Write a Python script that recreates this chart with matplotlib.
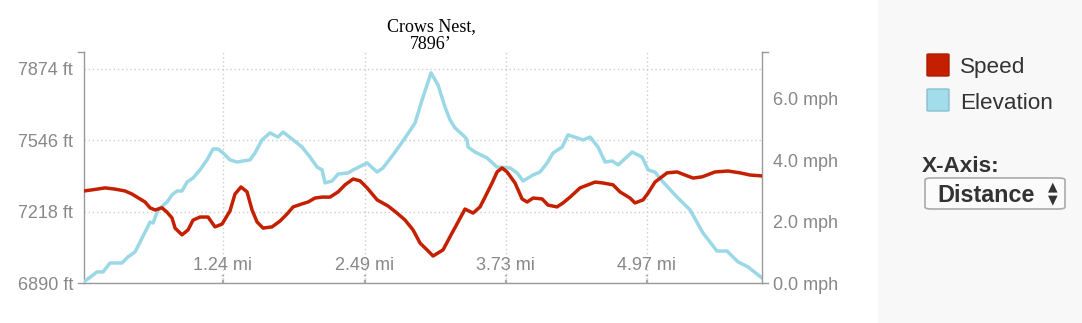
import matplotlib
matplotlib.use("Agg")
import matplotlib.pyplot as plt
from matplotlib.patches import FancyBboxPatch, Rectangle
import matplotlib.transforms as mtransforms

# --- data ---
elev_dist = [0.020, 0.135, 0.187, 0.249, 0.354, 0.407, 0.469, 0.513, 0.601, 0.627,
             0.671, 0.750, 0.794, 0.838, 0.882, 0.926, 0.979, 1.040, 1.102, 1.155,
             1.199, 1.243, 1.304, 1.366, 1.419, 1.480, 1.524, 1.586, 1.656, 1.726,
             1.771, 1.859, 1.938, 2.008, 2.070, 2.114, 2.140, 2.202, 2.255, 2.343,
             2.387, 2.510, 2.598, 2.650, 2.756, 2.844, 2.932, 2.993, 3.072, 3.134,
             3.195, 3.239, 3.283, 3.371, 3.389, 3.398, 3.459, 3.565, 3.653, 3.767,
             3.829, 3.882, 3.970, 4.031, 4.093, 4.146, 4.225, 4.277, 4.409, 4.471,
             4.541, 4.603, 4.665, 4.718, 4.841, 4.929, 4.981, 5.042, 5.113, 5.236,
             5.350, 5.464, 5.587, 5.675, 5.772, 5.860, 5.983]
elevation_ft = [6895, 6941, 6941, 6982, 6982, 7010, 7033, 7078, 7170, 7166,
                7226, 7262, 7295, 7313, 7313, 7354, 7373, 7410, 7456, 7506,
                7506, 7488, 7456, 7446, 7451, 7456, 7488, 7548, 7580, 7561,
                7584, 7548, 7515, 7469, 7423, 7410, 7350, 7359, 7391, 7396,
                7410, 7442, 7400, 7419, 7492, 7557, 7626, 7731, 7856, 7800,
                7699, 7640, 7603, 7561, 7548, 7515, 7492, 7465, 7423, 7419,
                7396, 7359, 7387, 7400, 7442, 7488, 7515, 7571, 7548, 7561,
                7515, 7446, 7451, 7433, 7492, 7469, 7410, 7400, 7354, 7285,
                7226, 7120, 7037, 7037, 6987, 6964, 6913]

speed_dist = [0.020, 0.135, 0.206, 0.294, 0.381, 0.442, 0.486, 0.557, 0.601, 0.645,
              0.706, 0.750, 0.794, 0.821, 0.882, 0.935, 0.979, 1.040, 1.111, 1.172,
              1.234, 1.304, 1.348, 1.401, 1.454, 1.498, 1.542, 1.595, 1.674, 1.744,
              1.806, 1.859, 1.938, 1.991, 2.052, 2.114, 2.184, 2.255, 2.316, 2.387,
              2.448, 2.510, 2.598, 2.694, 2.773, 2.844, 2.914, 2.976, 3.037, 3.090,
              3.178, 3.257, 3.310, 3.371, 3.442, 3.503, 3.547, 3.609, 3.653, 3.697,
              3.741, 3.811, 3.873, 3.917, 3.970, 4.049, 4.101, 4.180, 4.233, 4.295,
              4.383, 4.515, 4.585, 4.673, 4.734, 4.822, 4.866, 4.937, 4.981, 5.042,
              5.148, 5.236, 5.306, 5.377, 5.456, 5.570, 5.684, 5.790, 5.878, 5.983]
speed_mph = [3.00, 3.06, 3.10, 3.06, 3.00, 2.90, 2.80, 2.64, 2.45, 2.38,
             2.45, 2.31, 2.12, 1.79, 1.57, 1.73, 2.05, 2.15, 2.15, 1.83,
             1.92, 2.35, 2.90, 3.13, 2.97, 2.38, 1.99, 1.79, 1.83, 2.02,
             2.25, 2.48, 2.58, 2.64, 2.77, 2.80, 2.80, 2.97, 3.20, 3.39,
             3.33, 3.10, 2.71, 2.51, 2.28, 2.05, 1.73, 1.30, 1.08, 0.88,
             1.08, 1.63, 1.99, 2.41, 2.28, 2.48, 2.80, 3.26, 3.62, 3.75,
             3.62, 3.26, 2.74, 2.64, 2.77, 2.74, 2.54, 2.48, 2.61, 2.80,
             3.10, 3.29, 3.26, 3.20, 2.97, 2.77, 2.61, 2.71, 2.93, 3.29,
             3.59, 3.62, 3.52, 3.42, 3.46, 3.62, 3.65, 3.59, 3.52, 3.49]

x_ticks = [1.24, 2.49, 3.73, 4.97]
x_labels = ["1.24 mi", "2.49 mi", "3.73 mi", "4.97 mi"]
elev_ticks = [6890, 7218, 7546, 7874]
elev_labels = ["6890 ft", "7218 ft", "7546 ft", "7874 ft"]
speed_ticks = [0, 2, 4, 6]
speed_labels = ["0.0 mph", "2.0 mph", "4.0 mph", "6.0 mph"]
peak_label = "Crows Nest,\n7896\u2019"

RED = "#c42000"
BLUE = "#9ad8e6"
AXIS = "#999999"
TICKTXT = "#888888"

W, H = 1082, 323


def fx(x):
    return x / W


def fy(y):
    return 1 - y / H


plt.rcParams["font.family"] = ["Liberation Sans", "DejaVu Sans"]

fig = plt.figure(figsize=(W / 100, H / 100), dpi=100)
fig.patch.set_facecolor("white")

# grey side panel
fig.add_artist(Rectangle((fx(878), 0), 1 - fx(878), 1, transform=fig.transFigure,
                         facecolor="#f8f8f8", edgecolor="none", zorder=0))

ax = fig.add_axes([fx(84), 1 - 283 / H, 678 / W, 231 / H])
ax2 = ax.twinx()

ax.plot(elev_dist, elevation_ft, color=BLUE, lw=2.5, solid_capstyle="round",
        solid_joinstyle="round", zorder=3)
ax2.plot(speed_dist, speed_mph, color=RED, lw=2.5, solid_capstyle="round",
         solid_joinstyle="round", zorder=3)

ax.set_xlim(0.02, 5.983)
ax.set_ylim(6890, 7952)
ax2.set_ylim(0, 7.53)

ax.set_xticks(x_ticks, x_labels)
ax.set_yticks(elev_ticks, elev_labels)
ax2.set_yticks(speed_ticks, speed_labels)

ax.grid(True, linestyle=(0, (1, 2)), color="#cccccc", lw=1)
ax.set_axisbelow(True)

for a in (ax, ax2):
    a.set_facecolor("none")
    for s in a.spines.values():
        s.set_color(AXIS)
        s.set_linewidth(1)
    a.spines["top"].set_visible(False)
ax.spines["right"].set_visible(False)
ax2.spines["left"].set_visible(False)
ax2.spines["bottom"].set_visible(False)

ax.tick_params(axis="y", length=0, pad=8, labelsize=13, labelcolor=TICKTXT)
ax2.tick_params(axis="y", length=0, pad=8, labelsize=13, labelcolor=TICKTXT)
ax.tick_params(axis="x", length=0, pad=-19, labelsize=13, labelcolor=TICKTXT)

# little dashed tick marks at the bottom of the x axis
xt = ax.get_xaxis_transform()
for t in x_ticks:
    ax.plot([t, t], [0, 0.035], transform=xt, color="#aaaaaa", lw=1.6,
            linestyle=(0, (1.5, 1.5)), clip_on=False, zorder=2)

# end stubs on both y axes
stub = 6 / 678
for yy in (0, 1):
    ax.plot([-stub, 0], [yy, yy], transform=ax.transAxes, color=AXIS, lw=1, clip_on=False)
    ax.plot([1, 1 + stub], [yy, yy], transform=ax.transAxes, color=AXIS, lw=1, clip_on=False)

# peak label
peak_i = elevation_ft.index(max(elevation_ft))
tt = mtransforms.blended_transform_factory(ax.transData, ax.transAxes)
ax.text(elev_dist[peak_i], 0.995, peak_label, transform=tt, ha="center", va="bottom",
        multialignment="center", fontsize=13, family=["Liberation Serif", "DejaVu Serif"],
        color="black", linespacing=1.05)

# legend
fig.add_artist(FancyBboxPatch((fx(927), fy(76)), fx(22), 22 / H,
                              boxstyle="round,pad=0,rounding_size=0.002",
                              transform=fig.transFigure, facecolor=RED, edgecolor="#ad1e00", lw=1))
fig.add_artist(FancyBboxPatch((fx(927), fy(111)), fx(22), 22 / H,
                              boxstyle="round,pad=0,rounding_size=0.002",
                              transform=fig.transFigure, facecolor="#a3dcea", edgecolor="#88bfcc", lw=1))
fig.text(fx(960), fy(68), "Speed", fontsize=16.2, color="#333333", va="center", ha="left")
fig.text(fx(960), fy(104), "Elevation", fontsize=16.2, color="#333333", va="center", ha="left")

# x-axis selector
fig.text(fx(922), fy(167), "X-Axis:", fontsize=16.2, fontweight="bold", color="#333333",
         va="center", ha="left")
fig.add_artist(FancyBboxPatch((fx(925), fy(209)), fx(140), 31 / H,
                              boxstyle="round,pad=0,rounding_size=0.006",
                              transform=fig.transFigure, facecolor="#fbfbfb",
                              edgecolor="#aaaaaa", lw=1.2))
fig.text(fx(937), fy(195), "Distance", fontsize=16.8, fontweight="bold", color="#333333",
         va="center", ha="left")
fig.text(fx(1053), fy(187), "\u25b2", fontsize=9, color="#333333", va="center", ha="center",
         family="DejaVu Sans")
fig.text(fx(1053), fy(200), "\u25bc", fontsize=9, color="#333333", va="center", ha="center",
         family="DejaVu Sans")

fig.savefig("out.png", dpi=100)
